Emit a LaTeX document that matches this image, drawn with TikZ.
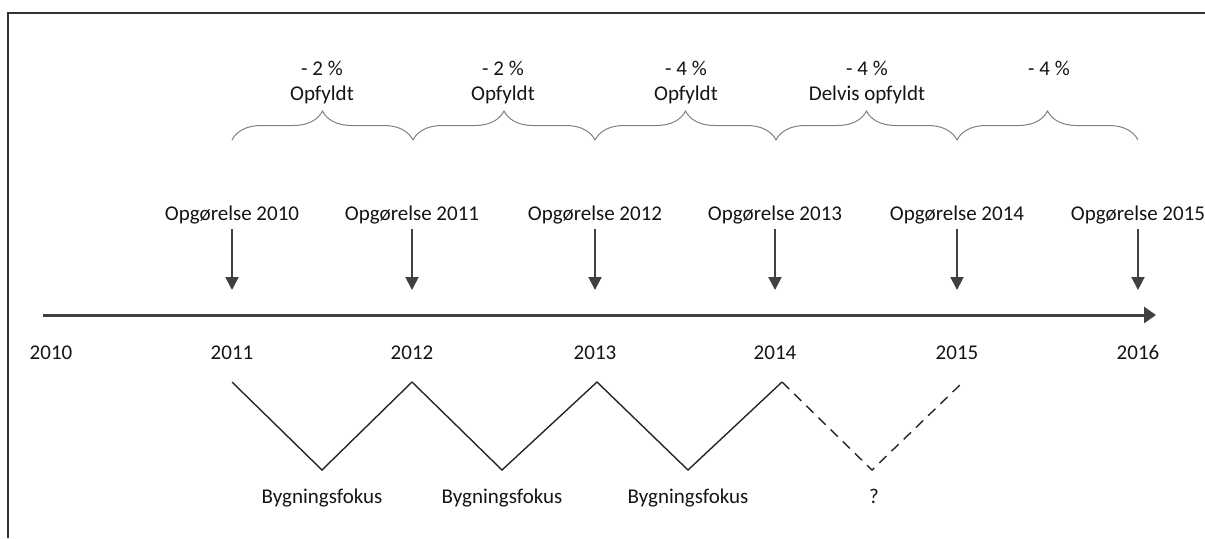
\documentclass[tikz,border=0pt]{standalone}
\usepackage{fontspec}
\setmainfont{Carlito}
\usepackage{xcolor}
\usetikzlibrary{positioning,calc,arrows.meta,decorations.pathreplacing}
\definecolor{axisgray}{RGB}{64,64,64}
\definecolor{bracegray}{RGB}{128,128,128}
\definecolor{textblack}{RGB}{20,20,20}

\begin{document}
\begin{tikzpicture}[
  x=0.5pt, y=-0.5pt,
  every node/.style={font=\fontsize{10.5}{12.5}\selectfont, text=textblack, inner sep=0pt, anchor=base},
  axisarrow/.style={draw=axisgray, line width=1.5pt, -{Triangle[length=6pt,width=8pt]}},
  downarrow/.style={draw=axisgray, line width=1pt, shorten <=2.5pt, -{Triangle[length=6.5pt,width=6.5pt]}},
  bracket/.style={draw=bracegray, line width=0.5pt, decorate, decoration={brace, amplitude=14.5pt}},
  focusline/.style={draw=black!85, line width=0.7pt}
]
\useasboundingbox (0,0) rectangle (1205,538);
\draw[line width=1pt, draw=black!80] (8,538) -- (8,13) -- (1205,13);

% timeline
\coordinate (axisstart) at (43,315);
\coordinate (axisend) at (1156,315);
\draw[axisarrow] (axisstart) -- (axisend);

\node (y2010) at (51,359) {2010};
\node (y2011) at (232,359) {2011};
\node (y2012) at (412,359) {2012};
\node (y2013) at (595,359) {2013};
\node (y2014) at (775,359) {2014};
\node (y2015) at (957,359) {2015};
\node (y2016) at (1138,359) {2016};

% opgoerelser
\node (rep1) at (232,220) {Opgørelse 2010};
\node (rep2) at (412,220) {Opgørelse 2011};
\node (rep3) at (595,220) {Opgørelse 2012};
\node (rep4) at (775,220) {Opgørelse 2013};
\node (rep5) at (957,220) {Opgørelse 2014};
\node (rep6) at (1138,220) {Opgørelse 2015};
\coordinate (tip1) at (232,290);
\coordinate (tip2) at (412,290);
\coordinate (tip3) at (595,290);
\coordinate (tip4) at (775,290);
\coordinate (tip5) at (957,290);
\coordinate (tip6) at (1138,290);
\draw[downarrow] (rep1.south) -- (tip1);
\draw[downarrow] (rep2.south) -- (tip2);
\draw[downarrow] (rep3.south) -- (tip3);
\draw[downarrow] (rep4.south) -- (tip4);
\draw[downarrow] (rep5.south) -- (tip5);
\draw[downarrow] (rep6.south) -- (tip6);

% krav pr. periode
\draw[bracket] (232,140) -- (413,140);
\draw[bracket] (413,140) -- (595,140);
\draw[bracket] (595,140) -- (776,140);
\draw[bracket] (776,140) -- (957,140);
\draw[bracket] (957,140) -- (1138,140);
\node (pct1) at (322,75) {- 2 \%};
\node (pct2) at (503,75) {- 2 \%};
\node (pct3) at (686,75) {- 4 \%};
\node (pct4) at (867,75) {- 4 \%};
\node (pct5) at (1049,75) {- 4 \%};
\node (st1) at ($(pct1.base)+(0,25)$) {Opfyldt};
\node (st2) at ($(pct2.base)+(0,25)$) {Opfyldt};
\node (st3) at ($(pct3.base)+(0,25)$) {Opfyldt};
\node (st4) at ($(pct4.base)+(0,25)$) {Delvis opfyldt};

% bygningsfokus
\draw[focusline] (232,382) -- (322,470) -- (412,382) -- (502,470) -- (597,382) -- (688,470) -- (782,382);
\draw[focusline, dash pattern=on 5pt off 3.5pt] (782,382) -- (872,470) -- (963,382);
\node (focus1) at (322,503) {Bygningsfokus};
\node (focus2) at (502,503) {Bygningsfokus};
\node (focus3) at (688,503) {Bygningsfokus};
\node (focus4) at (874,503) {?};
\end{tikzpicture}
\end{document}
